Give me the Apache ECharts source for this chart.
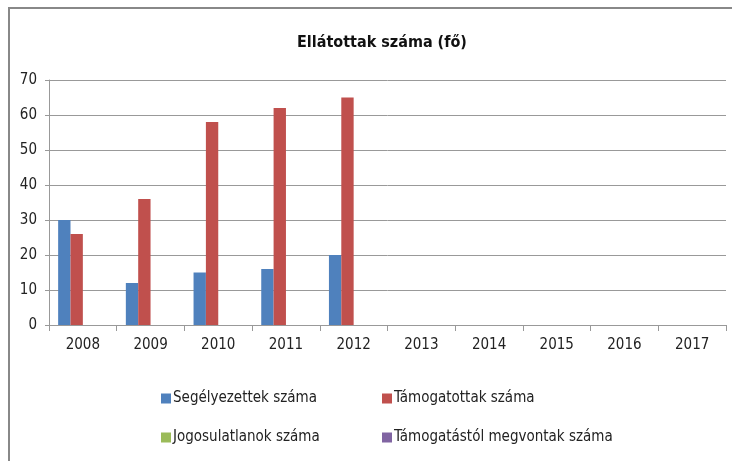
<!DOCTYPE html>
<html>
<head>
<meta charset="utf-8">
<script src="https://cdn.jsdelivr.net/npm/echarts@6/dist/echarts.min.js"></script>
<style>
  html, body { margin: 0; padding: 0; background: #fff; }
  #chart { width: 732px; height: 461px; }
</style>
</head>
<body>
<div id="chart"></div>
<script>
// adatok
const years = ["2008", "2009", "2010", "2011", "2012", "2013", "2014", "2015", "2016", "2017"];
const segelyezettek = [30, 12, 15, 16, 20, null, null, null, null, null];
const tamogatottak = [26, 36, 58, 62, 65, null, null, null, null, null];
const jogosulatlanok = [null, null, null, null, null, null, null, null, null, null];
const megvontak = [null, null, null, null, null, null, null, null, null, null];
const seriesNames = ["Segélyezettek száma", "Támogatottak száma", "Jogosulatlanok száma", "Támogatástól megvontak száma"];
const colors = ["#4F81BD", "#C0504D", "#9BBB59", "#8064A2"];

const font = '"Liberation Sans Narrow", "DejaVu Sans Condensed", sans-serif';

const chart = echarts.init(document.getElementById("chart"));

// legendák egyenként, a két oszlop / két sor elrendezés miatt
const legendPos = [
  { left: 161, top: 391 },
  { left: 382, top: 391 },
  { left: 161, top: 430 },
  { left: 382, top: 430 },
];
const legends = seriesNames.map((name, i) => ({
  data: [name],
  left: legendPos[i].left,
  top: legendPos[i].top,
  padding: 0,
  icon: "rect",
  itemWidth: 10,
  itemHeight: 10,
  itemGap: 0,
  textStyle: { fontFamily: font, fontSize: 15, color: "#222", padding: [0, 0, 0, -3] },
}));

const allData = [segelyezettek, tamogatottak, jogosulatlanok, megvontak];

const option = {
  animation: false,
  backgroundColor: "#fff",
  title: {
    text: "Ellátottak száma (fő)",
    left: 292,
    top: 30,
    textStyle: { fontFamily: font, fontSize: 16, fontWeight: "bold", color: "#111" },
  },
  legend: legends,
  grid: { left: 49, right: 6, top: 80, bottom: 136 },
  xAxis: {
    type: "category",
    data: years,
    axisLine: { lineStyle: { color: "#999" } },
    axisTick: { show: true, length: 6, lineStyle: { color: "#999" } },
    axisLabel: { fontFamily: font, fontSize: 15, color: "#222", margin: 13 },
  },
  yAxis: {
    type: "value",
    min: 0,
    max: 70,
    interval: 10,
    axisLine: { show: true, lineStyle: { color: "#999" } },
    axisTick: { show: true, length: 4, lineStyle: { color: "#999" } },
    axisLabel: { fontFamily: font, fontSize: 15, color: "#222", margin: 12 },
    splitLine: { lineStyle: { color: "#999" } },
  },
  series: seriesNames.map((name, i) => ({
    name: name,
    type: "bar",
    data: allData[i],
    barGap: "0%",
    barCategoryGap: "27%",
    itemStyle: { color: colors[i] },
  })),
  graphic: [
    {
      type: "polyline",
      shape: { points: [[9, 461], [9, 8], [732, 8]] },
      style: { stroke: "#888", lineWidth: 2, fill: null },
    },
  ],
};

chart.setOption(option);
</script>
</body>
</html>
